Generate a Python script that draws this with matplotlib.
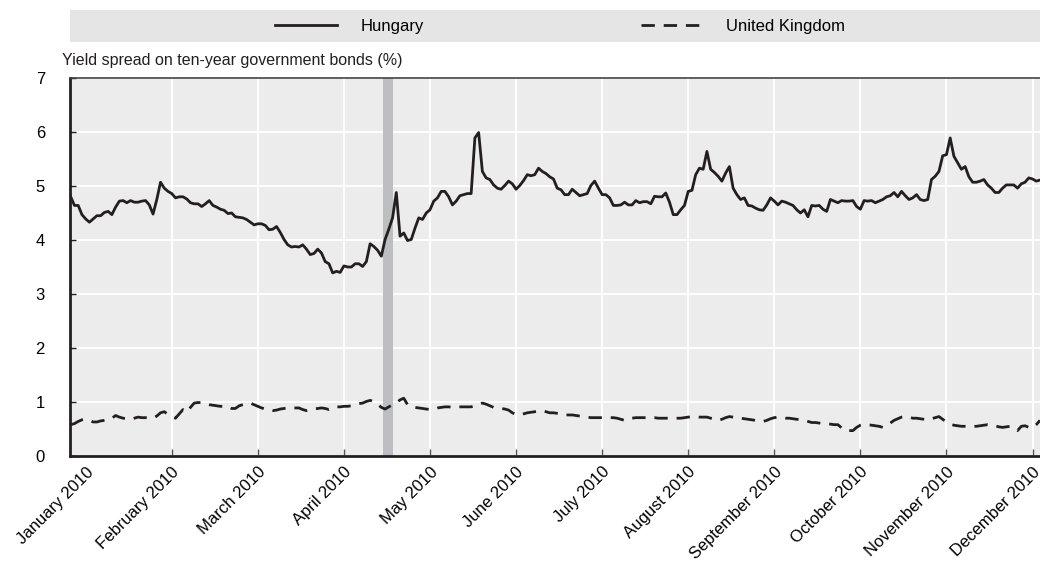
import matplotlib
matplotlib.use('Agg')
import matplotlib.pyplot as plt
import numpy as np
from matplotlib.lines import Line2D
from matplotlib.patches import Rectangle

plt.rcParams['font.family'] = ['Liberation Sans Narrow', 'Liberation Sans', 'DejaVu Sans']

# ---- data (daily observations, 2010) ----
hungary = [
    4.80, 4.64, 4.64, 4.47, 4.39, 4.33, 4.39, 4.45, 4.45, 4.51,
    4.53, 4.47, 4.61, 4.72, 4.73, 4.69, 4.73, 4.70, 4.70, 4.72,
    4.73, 4.65, 4.48, 4.75, 5.07, 4.96, 4.90, 4.86, 4.78, 4.80,
    4.80, 4.76, 4.69, 4.67, 4.67, 4.62, 4.67, 4.73, 4.64, 4.61,
    4.57, 4.55, 4.49, 4.50, 4.43, 4.42, 4.41, 4.38, 4.33, 4.28,
    4.30, 4.30,
    4.27, 4.19, 4.20, 4.25, 4.14, 4.01, 3.91, 3.87, 3.88, 3.87,
    3.91, 3.83, 3.73, 3.75, 3.83, 3.76, 3.60, 3.56, 3.39, 3.42,
    3.40, 3.52, 3.50, 3.50, 3.56, 3.56, 3.51, 3.60, 3.93, 3.88,
    3.81, 3.70, 4.01, 4.20, 4.41, 4.88, 4.07, 4.13, 3.99, 4.01,
    4.22, 4.41, 4.38, 4.50, 4.56, 4.72, 4.78, 4.90, 4.90, 4.80,
    4.65, 4.72, 4.82,
    4.84, 4.86, 4.86, 5.89, 5.99, 5.27, 5.15, 5.12, 5.02, 4.96,
    4.94, 5.01, 5.09, 5.04, 4.94, 5.01, 5.10, 5.21, 5.19, 5.21,
    5.33, 5.27, 5.23, 5.17, 5.13, 4.96, 4.93, 4.84, 4.84, 4.94,
    4.88, 4.82, 4.84, 4.86, 5.01, 5.09, 4.96, 4.84, 4.84, 4.78,
    4.64, 4.64, 4.65, 4.70, 4.65, 4.65, 4.73, 4.69, 4.71, 4.71,
    4.67, 4.81,
    4.80, 4.80, 4.87, 4.70, 4.47, 4.47, 4.56, 4.64, 4.90, 4.92,
    5.21, 5.33, 5.31, 5.64, 5.31, 5.25, 5.18, 5.09, 5.24, 5.36,
    4.96, 4.84, 4.75, 4.78, 4.64, 4.63, 4.59, 4.56, 4.55, 4.65,
    4.78, 4.72, 4.65, 4.72, 4.70, 4.67, 4.64, 4.56, 4.50, 4.56,
    4.43, 4.64, 4.63, 4.64, 4.57, 4.53, 4.75, 4.72, 4.69, 4.73,
    4.72, 4.72,
    4.73, 4.62, 4.57, 4.73, 4.72, 4.73, 4.69, 4.72, 4.75, 4.80,
    4.82, 4.88, 4.80, 4.90, 4.82, 4.75, 4.78, 4.84, 4.75, 4.73,
    4.75, 5.12, 5.18, 5.27, 5.56, 5.58, 5.89, 5.55, 5.43, 5.31,
    5.36, 5.17, 5.07, 5.07, 5.09, 5.12, 5.02, 4.96, 4.88, 4.88,
    4.96, 5.02, 5.02, 5.02, 4.96, 5.04, 5.07, 5.15, 5.13, 5.09,
    5.11,
]

united_kingdom = [
    0.58, 0.60, 0.64, 0.67, 0.68, 0.66, 0.63, 0.63, 0.65, 0.66,
    0.67, 0.70, 0.75, 0.72, 0.70, 0.69, 0.68, 0.70, 0.72, 0.71,
    0.71, 0.70, 0.70, 0.74, 0.80, 0.82, 0.77, 0.73, 0.70, 0.78,
    0.86, 0.81, 0.90, 0.98, 0.99, 0.99, 0.97, 0.95, 0.94, 0.93,
    0.92, 0.92, 0.92, 0.88, 0.88, 0.93, 0.95, 0.96, 0.98, 0.95,
    0.92, 0.89, 0.87, 0.85, 0.84, 0.85, 0.87, 0.88, 0.89, 0.89,
    0.89, 0.89, 0.86, 0.84, 0.85, 0.87, 0.88, 0.89, 0.88, 0.86,
    0.88, 0.91, 0.91, 0.92, 0.92, 0.93, 0.95, 0.97, 0.98, 1.01,
    1.03, 1.01, 0.96, 0.90, 0.87, 0.91, 0.95, 0.98, 1.04, 1.07,
    0.95, 0.91, 0.90, 0.89, 0.88, 0.87, 0.86, 0.87, 0.89, 0.90,
    0.91, 0.91, 0.90, 0.91, 0.91, 0.91, 0.91, 0.91, 0.93, 0.96,
    0.98, 0.96, 0.93, 0.90, 0.89, 0.88, 0.87, 0.85, 0.80, 0.77,
    0.76, 0.78, 0.80, 0.81, 0.82, 0.83, 0.84, 0.82, 0.80, 0.80,
    0.79, 0.78, 0.76, 0.76, 0.76, 0.75, 0.74, 0.73, 0.72, 0.71,
    0.71, 0.71, 0.71, 0.71, 0.71, 0.71,
    0.70, 0.68, 0.66, 0.67, 0.70, 0.71, 0.71, 0.71, 0.71, 0.71, 0.71,
    0.70, 0.70, 0.70, 0.70, 0.70, 0.70, 0.70,
    0.71, 0.72, 0.73, 0.73, 0.72, 0.72, 0.72,
    0.70, 0.68, 0.66, 0.68, 0.71, 0.73, 0.72, 0.70, 0.70,
    0.69, 0.68, 0.67, 0.66, 0.65, 0.64, 0.66, 0.69, 0.71, 0.72,
    0.71, 0.70, 0.70, 0.69, 0.68, 0.67, 0.66, 0.64, 0.62, 0.62,
    0.61, 0.60, 0.60, 0.59, 0.58, 0.58, 0.52, 0.47, 0.47, 0.47,
    0.53, 0.57, 0.58, 0.58, 0.57, 0.56, 0.55, 0.53, 0.57, 0.61,
    0.66, 0.69, 0.72, 0.73, 0.72, 0.70, 0.70, 0.69, 0.68, 0.67,
    0.69, 0.71, 0.73, 0.68, 0.63, 0.59, 0.57, 0.56, 0.55, 0.55,
    0.55, 0.55, 0.55, 0.56, 0.57, 0.58, 0.57, 0.56, 0.54, 0.53,
    0.54, 0.55, 0.51, 0.47, 0.55, 0.56, 0.53, 0.52, 0.58, 0.66,
]

month_labels = ['January 2010', 'February 2010', 'March 2010', 'April 2010',
                'May 2010', 'June 2010', 'July 2010', 'August 2010',
                'September 2010', 'October 2010', 'November 2010', 'December 2010']
series_names = ['Hungary', 'United Kingdom']
y_label = 'Yield spread on ten-year government bonds (%)'

# highlighted period (observation index)
band_start, band_end = 83.5, 86.1
first_label_obs = 4
obs_per_label = 23

# ---- styling ----
ink = '#231f20'
fs = 12

fig = plt.figure(figsize=(10.4, 5.66), dpi=100)
W, H = 1040, 566
ax = fig.add_axes([70 / W, (H - 456) / H, 970 / W, 378 / H])
ax.set_facecolor('#ececec')

# legend background strip
fig.patches.append(Rectangle((70 / W, (H - 42) / H), 970 / W, 32 / H,
                             transform=fig.transFigure, fc='#e5e5e5', ec='none'))

x_h = np.arange(len(hungary))
x_u = np.arange(len(united_kingdom))
ax.axvspan(band_start, band_end, color='#bdbec2', lw=0, zorder=1)
l1, = ax.plot(x_h, hungary, color=ink, lw=2.0, zorder=3, label=series_names[0])
l2, = ax.plot(x_u, united_kingdom, color=ink, lw=2.0, dashes=(4.8, 3.2), zorder=3,
              label=series_names[1])

ax.set_xlim(-0.19, 259.0)
ax.set_ylim(0, 7)
ax.set_yticks(range(8))
ticks = [first_label_obs + obs_per_label * k for k in range(len(month_labels))]
ax.set_xticks(ticks)
ax.set_xticklabels(month_labels, rotation=45, ha='right', va='top',
                   rotation_mode='anchor', fontsize=fs)
ax.tick_params(axis='x', direction='in', length=5, width=1, color='#555555', pad=6)
ax.tick_params(axis='y', direction='in', length=4, width=1, color=ink, pad=18,
               labelsize=fs)
ax.grid(True, color='white', lw=1.3)
ax.set_axisbelow(True)
first = ax.xaxis.get_major_ticks()[0]
first.tick1line.set_visible(False)
first.gridline.set_visible(False)

for s in ['left', 'bottom']:
    ax.spines[s].set_color(ink)
    ax.spines[s].set_linewidth(2.0)
ax.spines['top'].set_color('#444444')
ax.spines['top'].set_linewidth(1.2)
ax.spines['right'].set_visible(False)

fig.text(62 / W, (H - 60) / H, y_label, ha='left', va='center', fontsize=11.5, color=ink)

fig.legend(handles=[l1, l2], labels=series_names, loc='center',
           bbox_to_anchor=(560 / W, (H - 26) / H), ncol=2, frameon=False,
           fontsize=fs, handlelength=3.7, handletextpad=1.4, columnspacing=13.0)

fig.savefig('out.png', dpi=100)
